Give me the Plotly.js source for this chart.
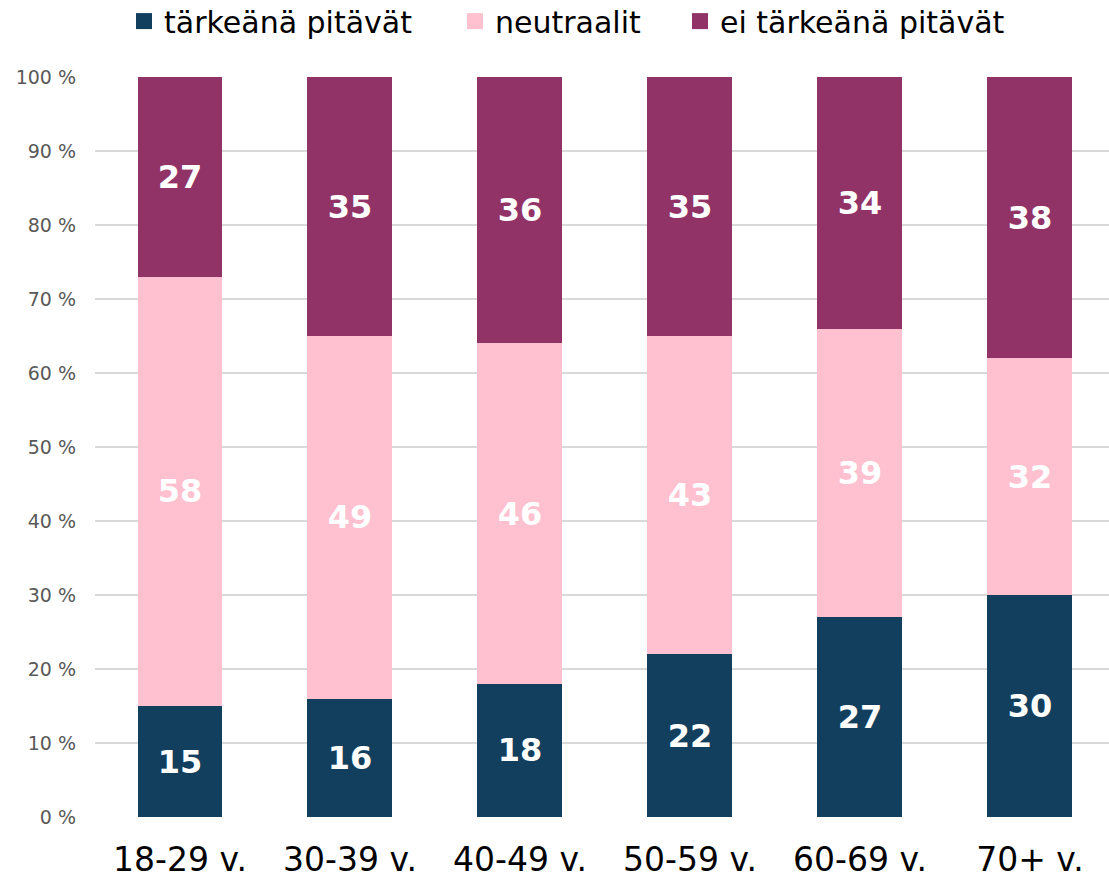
<!DOCTYPE html>
<html><head><meta charset="utf-8">
<script src="https://cdn.plot.ly/plotly-3.0.1.min.js"></script>
<style>html,body{margin:0;padding:0;overflow:hidden;background:#fff}</style>
</head><body>
<div id="chart" style="width:1109px;height:879px"></div>
<script>
const categories = ["18-29 v.", "30-39 v.", "40-49 v.", "50-59 v.", "60-69 v.", "70+ v."];
const seriesNames = ["tärkeänä pitävät", "neutraalit", "ei tärkeänä pitävät"];
const important = [15, 16, 18, 22, 27, 30];
const neutral = [58, 49, 46, 43, 39, 32];
const notImportant = [27, 35, 36, 35, 34, 38];
const yTicks = [0, 10, 20, 30, 40, 50, 60, 70, 80, 90, 100];
const colors = ["#133F5F", "#FFC0CF", "#913366"];
const values = [important, neutral, notImportant];

const traces = values.map((v, i) => ({
  type: "bar",
  name: seriesNames[i],
  x: categories,
  y: v,
  text: v.map(String),
  texttemplate: "%{text}",
  textposition: "inside",
  insidetextanchor: "middle",
  constraintext: "none",
  textfont: {family: "'DejaVu Sans', sans-serif", size: 32, color: "#ffffff", weight: 700},
  marker: {color: colors[i], line: {width: 0}},
  showlegend: false,
  hoverinfo: "skip"
}));

const legendIds = ["legend", "legend2", "legend3"];
const legendTraces = seriesNames.map((n, i) => ({
  type: "scatter",
  mode: "markers",
  name: n,
  x: [null], y: [null],
  legend: legendIds[i],
  marker: {symbol: "square", size: 17, color: colors[i]},
  showlegend: true,
  hoverinfo: "skip"
}));

const legendBase = {
  orientation: "h",
  xref: "container", xanchor: "left",
  yref: "container", y: 0.976, yanchor: "middle",
  font: {family: "'DejaVu Sans', sans-serif", size: 30, color: "#000000"},
  itemwidth: 30, bgcolor: "rgba(0,0,0,0)"
};
const legendX = [124, 455, 680];

const layout = {
  width: 1109, height: 879,
  barmode: "stack",
  bargap: 0.5,
  margin: {l: 95, r: 0, t: 77, b: 62, pad: 0, autoexpand: false},
  paper_bgcolor: "#ffffff",
  plot_bgcolor: "#ffffff",
  showlegend: true,
  legend: Object.assign({}, legendBase, {x: legendX[0] / 1109}),
  legend2: Object.assign({}, legendBase, {x: legendX[1] / 1109}),
  legend3: Object.assign({}, legendBase, {x: legendX[2] / 1109}),
  xaxis: {
    type: "category",
    range: [-0.5, 5.465],
    showgrid: false, zeroline: false, showline: false,
    ticks: "", ticklabelstandoff: 20,
    tickfont: {family: "'DejaVu Sans', sans-serif", size: 33, color: "#000000"}
  },
  yaxis: {
    range: [0, 100],
    tickvals: yTicks,
    ticktext: yTicks.map(t => t + " %"),
    showgrid: true, gridcolor: "#D9D9D9", gridwidth: 2,
    zeroline: false, showline: false, ticks: "",
    ticklabelstandoff: 18,
    tickfont: {family: "'DejaVu Sans', sans-serif", size: 19, color: "#595959"}
  }
};

Plotly.newPlot("chart", traces.concat(legendTraces), layout, {displayModeBar: false, staticPlot: true});
</script>
</body></html>
